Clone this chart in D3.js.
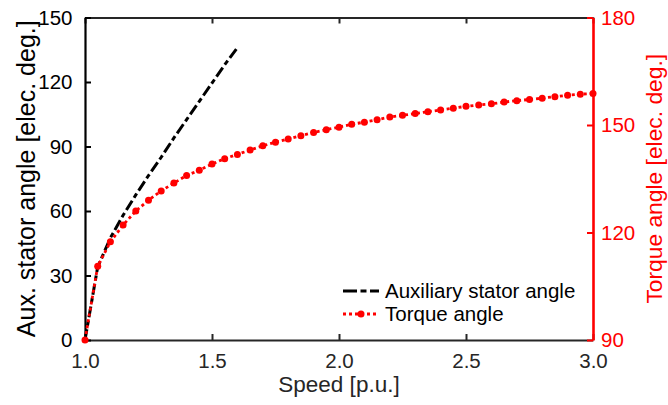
<!DOCTYPE html>
<html>
<head>
<meta charset="utf-8">
<script src="https://cdn.jsdelivr.net/npm/d3@7"></script>
<style>
  html, body { margin: 0; padding: 0; background: #fff; }
  svg { display: block; font-family: "Liberation Sans", Arial, Helvetica, sans-serif; }
</style>
</head>
<body>
<svg id="chart" width="668" height="405"></svg>
<script>
// ---- data ----
const auxSpeed = [1.0, 1.05, 1.1, 1.15, 1.2, 1.25, 1.3, 1.35, 1.4, 1.45, 1.5, 1.55, 1.6];
const auxAngle = [0, 34, 47.5, 58, 67.5, 76.5, 85, 94, 102.5, 111, 119.5, 128, 136];

const torqueSpeed = [1.0, 1.05, 1.1, 1.15, 1.2, 1.25, 1.3, 1.35, 1.4, 1.45, 1.5, 1.55, 1.6, 1.65, 1.7,
  1.75, 1.8, 1.85, 1.9, 1.95, 2.0, 2.05, 2.1, 2.15, 2.2, 2.25, 2.3, 2.35, 2.4, 2.45, 2.5,
  2.55, 2.6, 2.65, 2.7, 2.75, 2.8, 2.85, 2.9, 2.95, 3.0];
const torqueAngle = [90, 110.6, 117.4, 122.1, 126, 129, 131.6, 133.8, 135.9, 137.4, 139.1, 140.6, 141.8, 143, 144.2,
  145.2, 146.1, 147, 147.9, 148.7, 149.4, 150.2, 150.8, 151.5, 152.2, 152.7, 153.2, 153.7, 154.2, 154.7, 155.2,
  155.6, 155.9, 156.4, 156.8, 157.1, 157.5, 157.9, 158.3, 158.6, 158.8];

const xTicks = [1.0, 1.5, 2.0, 2.5, 3.0];
const yLeftTicks = [0, 30, 60, 90, 120, 150];
const yRightTicks = [90, 120, 150, 180];

const xLabel = "Speed [p.u.]";
const yLeftLabel = "Aux. stator angle [elec. deg.]";
const yRightLabel = "Torque angle [elec. deg.]";
const legendLabels = ["Auxiliary stator angle", "Torque angle"];

// ---- layout ----
const svg = d3.select("#chart");
const L = 85, R = 593, T = 17.5, B = 340;
const RED = "#ff0000", DARK = "#262626";

const x = d3.scaleLinear().domain([1, 3]).range([L, R]);
const yL = d3.scaleLinear().domain([0, 150]).range([B, T]);
const yR = d3.scaleLinear().domain([90, 180]).range([B, T]);

// top axis (box)
const gTop = svg.append("g").attr("transform", `translate(0,${T})`)
  .call(d3.axisTop(x).tickValues(xTicks).tickSizeInner(-6).tickSizeOuter(0).tickFormat(""));
gTop.select(".domain").attr("stroke", DARK).attr("stroke-width", 2.2);
gTop.selectAll(".tick line").attr("stroke", DARK).attr("stroke-width", 2);

// bottom axis
const gBot = svg.append("g").attr("transform", `translate(0,${B})`)
  .call(d3.axisBottom(x).tickValues(xTicks).tickSizeInner(-6).tickSizeOuter(0).tickPadding(13).tickFormat(d3.format(".1f")));
gBot.select(".domain").attr("stroke", DARK).attr("stroke-width", 2.2);
gBot.selectAll(".tick line").attr("stroke", DARK).attr("stroke-width", 2);
gBot.selectAll(".tick text").attr("fill", DARK).attr("font-size", 20.5).attr("font-family", null);

// left axis
const gLeft = svg.append("g").attr("transform", `translate(${L},0)`)
  .call(d3.axisLeft(yL).tickValues(yLeftTicks).tickSizeInner(-6).tickSizeOuter(0).tickPadding(12.5));
gLeft.select(".domain").attr("stroke", "#000").attr("stroke-width", 2.2);
gLeft.selectAll(".tick line").attr("stroke", "#000").attr("stroke-width", 2);
gLeft.selectAll(".tick text").attr("fill", "#000").attr("font-size", 20.5).attr("font-family", null);

// right axis
const gRight = svg.append("g").attr("transform", `translate(${R},0)`)
  .call(d3.axisRight(yR).tickValues(yRightTicks).tickSizeInner(-6).tickSizeOuter(0).tickPadding(8));
gRight.select(".domain").attr("stroke", RED).attr("stroke-width", 2.6);
gRight.selectAll(".tick line").attr("stroke", RED).attr("stroke-width", 2);
gRight.selectAll(".tick text").attr("fill", RED).attr("font-size", 20.5).attr("font-family", null);

// axis labels
svg.append("text").attr("x", (L + R) / 2).attr("y", 391.5).attr("text-anchor", "middle")
  .attr("font-size", 22.5).attr("fill", DARK).text(xLabel);
svg.append("text").attr("transform", `translate(35,${(T + B) / 2}) rotate(-90)`).attr("text-anchor", "middle")
  .attr("font-size", 25).attr("fill", "#000").text(yLeftLabel);
svg.append("text").attr("transform", `translate(661.5,${(T + B) / 2}) rotate(-90)`).attr("text-anchor", "middle")
  .attr("font-size", 22.8).attr("fill", RED).text(yRightLabel);

// series
const auxData = auxSpeed.map((s, i) => [s, auxAngle[i]]);
const torqueData = torqueSpeed.map((s, i) => [s, torqueAngle[i]]);

svg.append("path").datum(auxData)
  .attr("d", d3.line().x(d => x(d[0])).y(d => yL(d[1])))
  .attr("fill", "none").attr("stroke", "#000").attr("stroke-width", 3)
  .attr("stroke-dasharray", "11,3.5,5,3.5");

svg.append("path").datum(torqueData)
  .attr("d", d3.line().x(d => x(d[0])).y(d => yR(d[1])))
  .attr("fill", "none").attr("stroke", RED).attr("stroke-width", 2.8)
  .attr("stroke-dasharray", "3,3");

svg.append("g").selectAll("circle").data(torqueData).join("circle")
  .attr("cx", d => x(d[0])).attr("cy", d => yR(d[1])).attr("r", 3.5)
  .attr("fill", RED);

// legend
const lg = svg.append("g");
const lx0 = 343, lx1 = 379, rows = [291, 314];
lg.append("line").attr("x1", lx0).attr("x2", lx1).attr("y1", rows[0]).attr("y2", rows[0])
  .attr("stroke", "#000").attr("stroke-width", 3).attr("stroke-dasharray", "14,3.5,6,3.5,9");
lg.append("line").attr("x1", lx0).attr("x2", lx1).attr("y1", rows[1]).attr("y2", rows[1])
  .attr("stroke", RED).attr("stroke-width", 2.8).attr("stroke-dasharray", "3,3");
lg.append("circle").attr("cx", (lx0 + lx1) / 2).attr("cy", rows[1]).attr("r", 3.5).attr("fill", RED);
legendLabels.forEach((t, i) => {
  lg.append("text").attr("x", 385).attr("y", rows[i]).attr("dy", "0.35em")
    .attr("font-size", 20.5).attr("fill", "#000").text(t);
});
</script>
</body>
</html>
